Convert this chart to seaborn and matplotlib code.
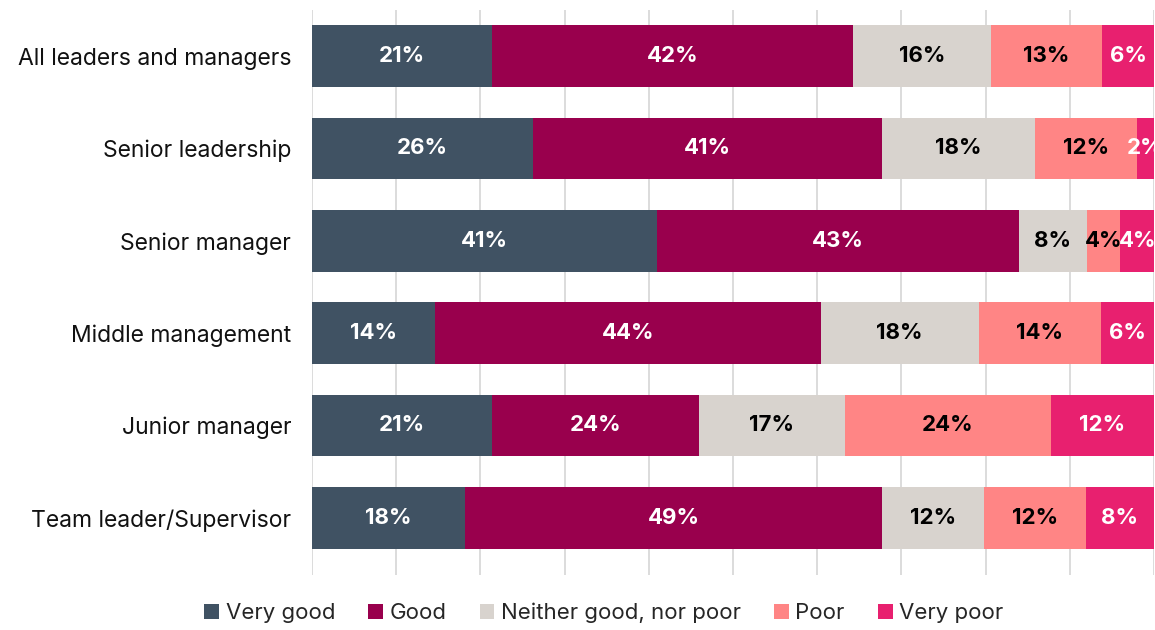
import numpy as np
import pandas as pd
import seaborn as sns
import matplotlib.pyplot as plt
from matplotlib.patches import Patch

# ============================
# DATA
# ============================
groups = [
    "All leaders and managers",
    "Senior leadership",
    "Senior manager",
    "Middle management",
    "Junior manager",
    "Team leader/Supervisor",
]
categories = ["Very good", "Good", "Neither good, nor poor", "Poor", "Very poor"]

very_good = [21, 26, 41, 14, 21, 18]
good = [42, 41, 43, 44, 24, 49]
neither = [16, 18, 8, 18, 17, 12]
poor = [13, 12, 4, 14, 24, 12]
very_poor = [6, 2, 4, 6, 12, 8]

colors = ["#405263", "#99004d", "#d8d3ce", "#ff8585", "#e8206f"]
text_colors = ["white", "white", "black", "black", "white"]

# ============================
# STYLE
# ============================
sns.set_theme(style="white")
plt.rcParams["font.family"] = ["Inter", "DejaVu Sans"]

values = np.array([very_good, good, neither, poor, very_poor], dtype=float)
shares = values / values.sum(axis=0) * 100  # 100% stacked
cum = np.cumsum(shares, axis=0)

fig = plt.figure(figsize=(11.55, 6.3), dpi=100)
ax = fig.add_axes([312 / 1155, 55 / 630, 842 / 1155, 565 / 630])

# vertical grid lines every 10%
for x in np.arange(0, 101, 10):
    ax.axvline(x, color="#d9d9d9", lw=1.3, zorder=0)

# stacked bars: draw cumulative totals from the right so each segment shows
for i in range(len(categories) - 1, -1, -1):
    df = pd.DataFrame({"group": groups, "value": cum[i]})
    sns.barplot(data=df, x="value", y="group", orient="h", color=colors[i],
                saturation=1, width=0.67, ax=ax, zorder=2, linewidth=0)

# labels
for i in range(len(categories)):
    for j in range(len(groups)):
        mid = cum[i, j] - shares[i, j] / 2
        ax.text(mid, j, f"{values[i, j]:.0f}%", ha="center", va="center",
                color=text_colors[i], fontsize=16, fontweight="bold", zorder=3)

ax.set_xlim(0, 100)
ax.set_ylim(5.62, -0.5)
ax.set_xlabel("")
ax.set_ylabel("")
ax.set_xticks([])
ax.tick_params(axis="y", labelsize=16.5, length=0, pad=15, colors="#111111")
for s in ax.spines.values():
    s.set_visible(False)

handles = [Patch(facecolor=c, edgecolor="none") for c in colors]
fig.legend(handles, categories, loc="center", bbox_to_anchor=(604 / 1155, 1 - 613 / 630),
           ncol=5, frameon=False, fontsize=16, handlelength=0.65, handleheight=0.65,
           handletextpad=0.3, columnspacing=1.5)

plt.savefig("out.png", dpi=100)
plt.close()
